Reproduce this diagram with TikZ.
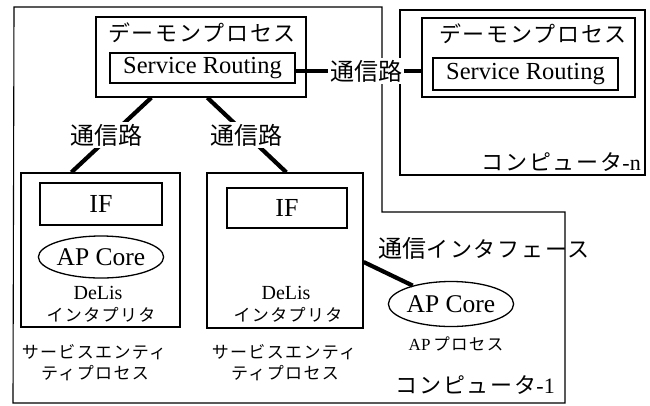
\documentclass[tikz,border=0pt]{standalone}
\usepackage{fontspec}
\setmainfont{Liberation Serif}
\newfontfamily\jp{Noto Sans CJK JP}
\newfontfamily\jps[LetterSpace=8]{Noto Sans CJK JP}
\usetikzlibrary{shapes.geometric}
\tikzset{
  outline/.style={draw, line width=1.1pt},
  box/.style={draw, line width=1.3pt, inner sep=0pt},
  conn/.style={line width=4.2pt},
  jpl/.style={font=\jps\fontsize{22}{24}\selectfont, inner sep=1pt},
  jpk/.style={font=\jp\fontsize{24}{26}\selectfont, inner sep=2pt},
  jpsm/.style={font=\jps\fontsize{17}{19}\selectfont, inner sep=1pt},
  en/.style={font=\fontsize{24.5}{26}\selectfont, inner sep=1pt},
  ensm/.style={font=\fontsize{20}{22}\selectfont, inner sep=1pt},
  core/.style={draw, ellipse, line width=1.3pt, inner sep=0pt, font=\fontsize{25.5}{27}\selectfont},
  wlab/.style={jpk, fill=white}
}
\begin{document}
\begin{tikzpicture}[x=1pt,y=-1pt]
\useasboundingbox (0,0) rectangle (650,405);
% computer-1 outline
\draw[outline] (14,7) -- (382,7) -- (382,212) -- (565,212) -- (565,403) -- (13,403) -- cycle;
% computer-n
\node[box, line width=1.1pt, minimum width=245pt, minimum height=165pt] (cn) at (522.5,92.5) {};
\node[jpl, anchor=east] (cnt) at (642,162) {コンピュータ\rmfamily-n};
% daemon processes
\node[box, minimum width=210pt, minimum height=80pt] (d1) at (201,57) {};
\node[jpl] (d1t) at (202,33) {デーモンプロセス};
\node[box, minimum width=185pt, minimum height=30pt, en] (sr1) at (202.5,68) {Service Routing};
\node[box, minimum width=213pt, minimum height=79pt] (d2) at (528.5,57.5) {};
\node[jpl] (d2t) at (533,34) {デーモンプロセス};
\node[box, minimum width=185pt, minimum height=32pt, en] (sr2) at (525.5,74) {Service Routing};
% service entity processes
\node[box, minimum width=159pt, minimum height=154pt] (e1) at (100.5,250) {};
\node[box, minimum width=122pt, minimum height=42pt, font=\fontsize{26}{28}\selectfont] (if1) at (101,204) {IF};
\node[core, minimum width=125pt, minimum height=42pt] (apc1) at (101,257) {AP Core};
\node[ensm] (dl1) at (98,293) {DeLis};
\node[jpsm] (in1) at (101,315) {インタプリタ};
\node[jpsm] (se1a) at (94,352) {サービスエンティ};
\node[jpsm] (se1b) at (95,373) {ティプロセス};
\node[box, minimum width=156pt, minimum height=155pt] (e2) at (285,250.5) {};
\node[box, minimum width=120pt, minimum height=40pt, font=\fontsize{26}{28}\selectfont] (if2) at (287,208) {IF};
\node[ensm] (dl2) at (286,293) {DeLis};
\node[jpsm] (in2) at (288,315) {インタプリタ};
\node[jpsm] (se2a) at (284,352) {サービスエンティ};
\node[jpsm] (se2b) at (285,373) {ティプロセス};
% AP process
\node[core, minimum width=125pt, minimum height=45pt] (apc2) at (451,304) {AP Core};
\node[font=\fontsize{17}{18}\selectfont, inner sep=1pt] (app) at (456,344) {AP\,{\jps\fontsize{16.5}{18}\selectfont プロセス}};
\node[jpl, anchor=east] (c1t) at (556,385) {コンピュータ\rmfamily-1};
% connectors
\draw[conn] ([xshift=56pt]d1.south west) -- ([xshift=51pt]e1.north west);
\draw[conn] ([xshift=112pt]d1.south west) -- ([xshift=80pt]e2.north west);
\draw[conn] ([yshift=-3pt]sr1.east) -- ([yshift=-3pt]sr1.east -| d2.west);
\draw[conn] ([yshift=-11.5pt]e2.east) -- (apc2);
% labels
\node[wlab] (l1) at (106,135) {通信路};
\node[wlab] (l2) at (246,135) {通信路};
\node[wlab] (l0) at (366,71) {通信路};
\node[inner sep=1pt] (ifl) at (484,248) {{\jp\fontsize{24}{26}\selectfont 通信}{\jps\fontsize{22}{24}\selectfont インタフェース}};
\end{tikzpicture}
\end{document}
